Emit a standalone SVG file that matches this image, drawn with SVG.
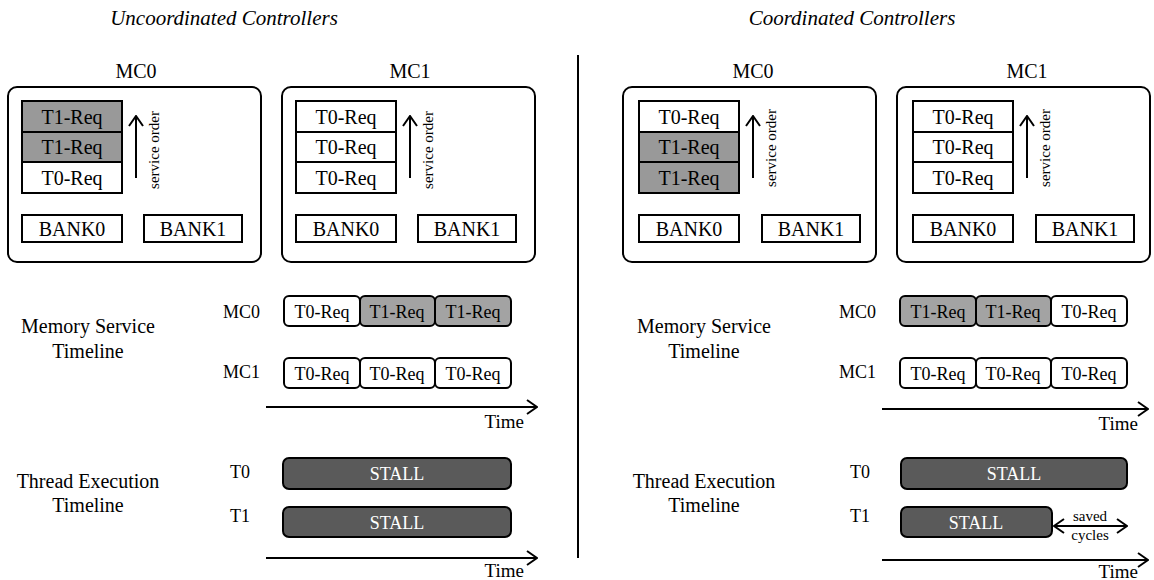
<svg xmlns="http://www.w3.org/2000/svg" width="1154" height="580" viewBox="0 0 1154 580">
<style>
text{font-family:"Liberation Serif","Times New Roman",serif;fill:#000}
.title{font-size:21px;font-style:italic;text-anchor:middle}
.lbl{font-size:20px;text-anchor:middle}
.q{font-size:20px;text-anchor:middle}
.bank{font-size:20px;text-anchor:middle}
.so{font-size:15px;text-anchor:middle}
.tl{font-size:18px;text-anchor:middle}
.side{font-size:20px;text-anchor:middle}
.rowlbl{font-size:18px;text-anchor:end}
.stall{font-size:18px;text-anchor:middle;fill:#fff}
.time{font-size:19px;text-anchor:end}
.small{font-size:15px;text-anchor:middle}
.mc{fill:#fff;stroke:#000;stroke-width:2}
.cell{stroke:#000;stroke-width:2}
.w{fill:#fff}
.g{fill:#999}
.tg{fill:#a3a3a3}
.tb{stroke:#000;stroke-width:2}
.stb{fill:#5a5a5a;stroke:#000;stroke-width:2}
.ln{stroke:#000;stroke-width:2;fill:none}
</style>
<defs>
<marker id="ah" viewBox="0 0 12 16" refX="11" refY="8" markerWidth="12" markerHeight="16" markerUnits="userSpaceOnUse" orient="auto-start-reverse">
<path d="M1,1 L11,8 L1,15" fill="none" stroke="#000" stroke-width="2"/>
</marker>
</defs>

<text class="title" x="224" y="25">Uncoordinated Controllers</text>
<text class="title" x="852" y="25">Coordinated Controllers</text>

<!-- Left MC0 -->
<g id="L-MC0">
<text class="lbl" x="136" y="78">MC0</text>
<rect class="mc" x="8" y="87" width="253" height="175" rx="9"/>
<rect class="cell g" x="22" y="101" width="100" height="31"/>
<text class="q" x="72" y="124">T1-Req</text>
<rect class="cell g" x="22" y="132" width="100" height="30"/>
<text class="q" x="72" y="154">T1-Req</text>
<rect class="cell w" x="22" y="162" width="100" height="31"/>
<text class="q" x="72" y="185">T0-Req</text>
<text class="so" transform="translate(159,150) rotate(-90)">service order</text>
<rect class="cell w" x="22" y="215" width="100" height="27"/>
<text class="bank" x="72" y="236">BANK0</text>
<rect class="cell w" x="144" y="215" width="98" height="27"/>
<text class="bank" x="193" y="236">BANK1</text>
</g>

<!-- Left MC1 -->
<g id="L-MC1">
<text class="lbl" x="410" y="78">MC1</text>
<rect class="mc" x="282" y="87" width="253" height="175" rx="9"/>
<rect class="cell w" x="296" y="101" width="100" height="31"/>
<text class="q" x="346" y="124">T0-Req</text>
<rect class="cell w" x="296" y="132" width="100" height="30"/>
<text class="q" x="346" y="154">T0-Req</text>
<rect class="cell w" x="296" y="162" width="100" height="31"/>
<text class="q" x="346" y="185">T0-Req</text>
<text class="so" transform="translate(433,150) rotate(-90)">service order</text>
<rect class="cell w" x="296" y="215" width="100" height="27"/>
<text class="bank" x="346" y="236">BANK0</text>
<rect class="cell w" x="418" y="215" width="98" height="27"/>
<text class="bank" x="467" y="236">BANK1</text>
</g>

<!-- Right MC0 -->
<g id="R-MC0">
<text class="lbl" x="753" y="78">MC0</text>
<rect class="mc" x="623" y="87" width="253" height="175" rx="9"/>
<rect class="cell w" x="639" y="101" width="100" height="31"/>
<text class="q" x="689" y="124">T0-Req</text>
<rect class="cell g" x="639" y="132" width="100" height="30"/>
<text class="q" x="689" y="154">T1-Req</text>
<rect class="cell g" x="639" y="162" width="100" height="31"/>
<text class="q" x="689" y="185">T1-Req</text>
<text class="so" transform="translate(776,148) rotate(-90)">service order</text>
<rect class="cell w" x="639" y="215" width="100" height="27"/>
<text class="bank" x="689" y="236">BANK0</text>
<rect class="cell w" x="762" y="215" width="98" height="27"/>
<text class="bank" x="811" y="236">BANK1</text>
</g>

<!-- Right MC1 -->
<g id="R-MC1">
<text class="lbl" x="1027" y="78">MC1</text>
<rect class="mc" x="897" y="87" width="253" height="175" rx="9"/>
<rect class="cell w" x="913" y="101" width="100" height="31"/>
<text class="q" x="963" y="124">T0-Req</text>
<rect class="cell w" x="913" y="132" width="100" height="30"/>
<text class="q" x="963" y="154">T0-Req</text>
<rect class="cell w" x="913" y="162" width="100" height="31"/>
<text class="q" x="963" y="185">T0-Req</text>
<text class="so" transform="translate(1050,148) rotate(-90)">service order</text>
<rect class="cell w" x="913" y="215" width="100" height="27"/>
<text class="bank" x="963" y="236">BANK0</text>
<rect class="cell w" x="1036" y="215" width="98" height="27"/>
<text class="bank" x="1085" y="236">BANK1</text>
</g>

<!-- Left timelines -->
<g id="L-memtl">
<text class="side" x="88" y="333">Memory Service</text>
<text class="side" x="88" y="358">Timeline</text>
<text class="rowlbl" x="260" y="318">MC0</text>
<text class="rowlbl" x="260" y="378">MC1</text>
<rect class="tb w" x="284" y="296" width="76" height="30" rx="5"/>
<text class="tl" x="322" y="318">T0-Req</text>
<rect class="tb tg" x="360" y="296" width="75" height="30" rx="5"/>
<text class="tl" x="397" y="318">T1-Req</text>
<rect class="tb tg" x="435" y="296" width="76" height="30" rx="5"/>
<text class="tl" x="473" y="318">T1-Req</text>
<rect class="tb w" x="284" y="358" width="76" height="30" rx="5"/>
<text class="tl" x="322" y="380">T0-Req</text>
<rect class="tb w" x="360" y="358" width="75" height="30" rx="5"/>
<text class="tl" x="397" y="380">T0-Req</text>
<rect class="tb w" x="435" y="358" width="76" height="30" rx="5"/>
<text class="tl" x="473" y="380">T0-Req</text>
<text class="time" x="524" y="428">Time</text>
</g>

<g id="L-thrtl">
<text class="side" x="88" y="488">Thread Execution</text>
<text class="side" x="88" y="512">Timeline</text>
<text class="rowlbl" x="250" y="478">T0</text>
<text class="rowlbl" x="250" y="522">T1</text>
<rect class="stb" x="283" y="458" width="228" height="31" rx="6"/>
<text class="stall" x="397" y="480">STALL</text>
<rect class="stb" x="283" y="507" width="228" height="30" rx="6"/>
<text class="stall" x="397" y="529">STALL</text>
<text class="time" x="524" y="577">Time</text>
</g>

<!-- Right timelines -->
<g id="R-memtl">
<text class="side" x="704" y="333">Memory Service</text>
<text class="side" x="704" y="358">Timeline</text>
<text class="rowlbl" x="876" y="318">MC0</text>
<text class="rowlbl" x="876" y="378">MC1</text>
<rect class="tb tg" x="900" y="296" width="76" height="30" rx="5"/>
<text class="tl" x="938" y="318">T1-Req</text>
<rect class="tb tg" x="976" y="296" width="75" height="30" rx="5"/>
<text class="tl" x="1013" y="318">T1-Req</text>
<rect class="tb w" x="1051" y="296" width="76" height="30" rx="5"/>
<text class="tl" x="1089" y="318">T0-Req</text>
<rect class="tb w" x="900" y="358" width="76" height="30" rx="5"/>
<text class="tl" x="938" y="380">T0-Req</text>
<rect class="tb w" x="976" y="358" width="75" height="30" rx="5"/>
<text class="tl" x="1013" y="380">T0-Req</text>
<rect class="tb w" x="1051" y="358" width="76" height="30" rx="5"/>
<text class="tl" x="1089" y="380">T0-Req</text>
<text class="time" x="1138" y="430">Time</text>
</g>

<g id="R-thrtl">
<text class="side" x="704" y="488">Thread Execution</text>
<text class="side" x="704" y="512">Timeline</text>
<text class="rowlbl" x="870" y="478">T0</text>
<text class="rowlbl" x="870" y="522">T1</text>
<rect class="stb" x="901" y="458" width="226" height="31" rx="6"/>
<text class="stall" x="1014" y="480">STALL</text>
<rect class="stb" x="901" y="507" width="151" height="30" rx="6"/>
<text class="stall" x="976" y="529">STALL</text>
<text class="small" x="1090" y="521">saved</text>
<text class="small" x="1090" y="540">cycles</text>
<text class="time" x="1138" y="578">Time</text>
</g>

<g id="connectors">
<line class="ln" x1="578" y1="55" x2="578" y2="558"/>
<line class="ln" x1="136" y1="178" x2="136" y2="116" marker-end="url(#ah)"/>
<line class="ln" x1="410" y1="178" x2="410" y2="116" marker-end="url(#ah)"/>
<line class="ln" x1="753" y1="178" x2="753" y2="116" marker-end="url(#ah)"/>
<line class="ln" x1="1027" y1="178" x2="1027" y2="116" marker-end="url(#ah)"/>
<line class="ln" x1="266" y1="407" x2="537" y2="407" marker-end="url(#ah)"/>
<line class="ln" x1="266" y1="558" x2="537" y2="558" marker-end="url(#ah)"/>
<line class="ln" x1="882" y1="409" x2="1148" y2="409" marker-end="url(#ah)"/>
<line class="ln" x1="882" y1="560" x2="1148" y2="560" marker-end="url(#ah)"/>
<line class="ln" x1="1054" y1="526" x2="1127" y2="526" marker-start="url(#ah)" marker-end="url(#ah)"/>
</g>
</svg>
